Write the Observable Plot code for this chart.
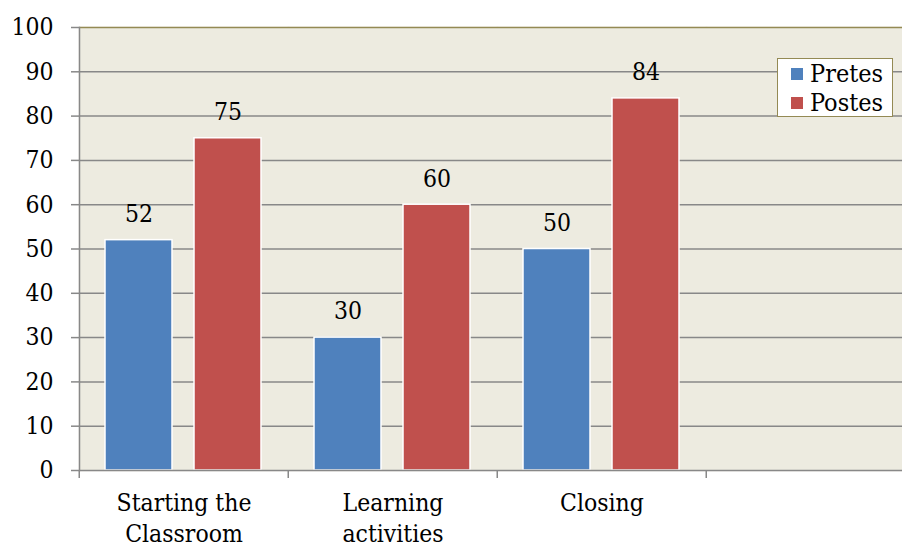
<!DOCTYPE html>
<html>
<head>
<meta charset="utf-8">
<script src="https://cdn.jsdelivr.net/npm/d3@7"></script>
<script src="https://cdn.jsdelivr.net/npm/@observablehq/plot@0.6"></script>
<style>
  html, body { margin: 0; padding: 0; background: #fff; overflow: hidden; }
  #wrap { position: relative; width: 902px; height: 547px; }
  .legend {
    position: absolute; left: 777px; top: 58px; width: 114px; height: 57px;
    background: #fff; border: 1.5px solid #948A54;
    font-family: "DejaVu Serif", serif; font-stretch: condensed; font-size: 25px; color: #000;
  }
  .legend .row { position: absolute; left: 13px; display: flex; align-items: center; line-height: 28px; }
  .legend .sw { width: 12px; height: 12px; margin-right: 7px; }
</style>
</head>
<body>
<div id="wrap"></div>
<script>
// Survey stages and the two measurement rounds
const stages = ["Starting the\nClassroom", "Learning\nactivities", "Closing", "\u00a0"];
const series = ["Pretes", "Postes"];
const pretes = [52, 30, 50];
const postes = [75, 60, 84];
const colors = ["#4F81BD", "#C0504D"];
const yTicks = [0, 10, 20, 30, 40, 50, 60, 70, 80, 90, 100];

const rows = [];
stages.slice(0, 3).forEach((s, i) => {
  rows.push({stage: s, series: "Pretes", value: pretes[i]});
  rows.push({stage: s, series: "Postes", value: postes[i]});
});

// one gridline per stage and tick, so every stage (even the empty one) gets a panel
const grid = stages.flatMap(s => yTicks.map(t => ({stage: s, tick: t})));

const font = `"DejaVu Serif", serif`;
const fxRange = [78, 916];
const bandHalf = (fxRange[1] - fxRange[0]) / stages.length / 2;
const gridColor = "#888888";
const bg = "#EDEBE0";
const fs = 24.5;

const chart = Plot.plot({
  width: 902,
  height: 547,
  marginLeft: 78,
  marginRight: 0,
  marginTop: 27,
  marginBottom: 77,
  style: {fontFamily: font, fontStretch: "condensed", fontSize: fs + "px", color: "#000", background: "transparent"},
  fx: {domain: stages, range: fxRange, padding: 0, label: null, axis: null},
  x: {domain: series, paddingInner: 0.244, paddingOuter: 0.286, axis: null},
  y: {domain: [0, 100], axis: null, label: null},
  color: {domain: series, range: colors},
  marks: [
    // plot-area background; the matching stroke hides seams between panels
    Plot.frame({fill: bg, stroke: bg, strokeWidth: 1.5}),
    Plot.ruleY(grid.filter(d => d.tick > 0 && d.tick < 100), {fx: "stage", y: "tick", stroke: gridColor, strokeWidth: 1.5}),
    Plot.ruleY(grid.filter(d => d.tick === 100), {fx: "stage", y: "tick", stroke: "#948A54", strokeWidth: 1.5}),
    Plot.barY(rows, {
      fx: "stage", x: "series", y: "value", fill: "series",
      stroke: "#fff", strokeWidth: 1.5,
      style: {filter: "drop-shadow(1px 1px 1px rgba(0,0,0,0.3))"}
    }),
    Plot.ruleY(grid.filter(d => d.tick === 0), {fx: "stage", y: "tick", stroke: gridColor, strokeWidth: 1.5}),
    Plot.text(rows, {
      fx: "stage", x: "series", y: "value", text: "value",
      dy: -26, fontSize: fs, fill: "#000"
    }),
    // y axis: gray ticks and black labels
    Plot.axisY({ticks: yTicks, tickSize: 8, text: null, label: null, stroke: gridColor, strokeWidth: 1.5}),
    Plot.axisY({ticks: yTicks, tickSize: 0, tickPadding: 26, label: null, fill: "#000", fontSize: fs, tickFormat: d => d}),
    Plot.frame({anchor: "left", facetAnchor: "left", stroke: gridColor, strokeWidth: 1.5}),
    // category labels and boundary ticks
    Plot.axisFx({anchor: "bottom", tickSize: 0, tickPadding: 18, fill: "#000", fontSize: fs, lineHeight: 1.28, label: null}),
    Plot.axisFx({anchor: "bottom", tickSize: 8, text: null, dx: -bandHalf, stroke: gridColor, strokeWidth: 1.5, label: null})
  ]
});

const wrap = document.getElementById("wrap");
wrap.appendChild(chart);

// legend box
const legend = document.createElement("div");
legend.className = "legend";
series.forEach((s, i) => {
  const row = document.createElement("div");
  row.className = "row";
  row.style.top = (i === 0 ? 1 : 30) + "px";
  row.innerHTML = `<span class="sw" style="background:${colors[i]}"></span><span>${s}</span>`;
  legend.appendChild(row);
});
wrap.appendChild(legend);
</script>
</body>
</html>
